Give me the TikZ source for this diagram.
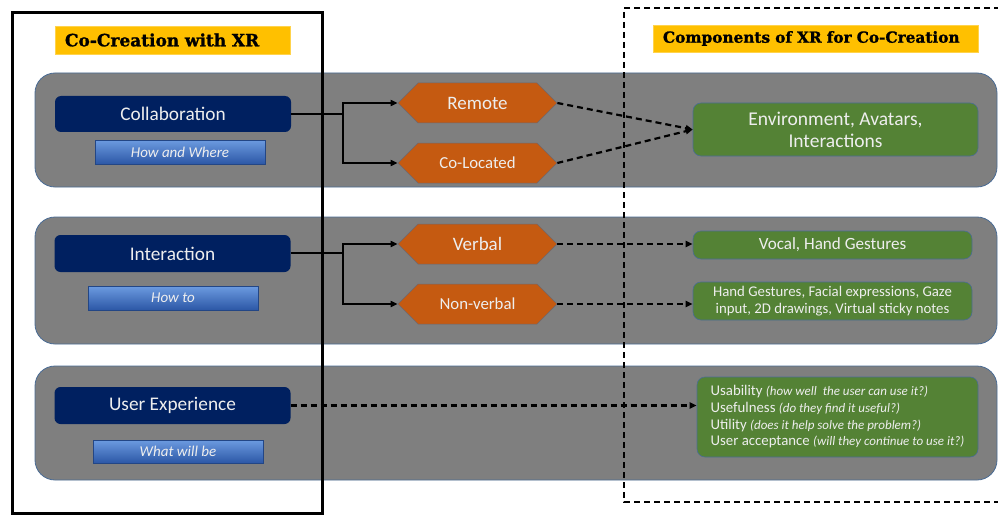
\documentclass[tikz,border=0pt]{standalone}
\usepackage{fontspec}
\setmainfont{Carlito}
\newfontfamily\slabfont{DejaVu Serif}[BoldFeatures={FakeBold=1.2}]
\usetikzlibrary{arrows.meta,shapes.symbols}

\definecolor{bandgray}{HTML}{7F7F7F}
\definecolor{bandedge}{HTML}{4A6C95}
\definecolor{navy}{HTML}{002060}
\definecolor{hexorange}{HTML}{C55A11}
\definecolor{leafgreen}{HTML}{548235}
\definecolor{titleyellow}{HTML}{FFC000}
\definecolor{bevellight}{HTML}{6C9BE0}
\definecolor{beveldark}{HTML}{2C57A6}
\definecolor{softwhite}{HTML}{EEEEEE}

\tikzset{
  band/.style={fill=bandgray, draw=bandedge, line width=0.8pt, rounded corners=20pt},
  titlebox/.style={fill=titleyellow, draw=titleyellow!70!white, line width=0.5pt,
    font=\slabfont\bfseries\fontsize{17}{20}\selectfont, text=black,
    inner xsep=10pt, inner ysep=0pt, align=left},
  navybox/.style={fill=navy, draw=none, rounded corners=6pt, text=softwhite,
    minimum width=236, minimum height=36, font=\fontsize{19.3}{22}\selectfont},
  bevel/.style={top color=bevellight, bottom color=beveldark, draw=beveldark!80!black,
    line width=0.4pt, minimum width=170, minimum height=24, text=softwhite, inner sep=0pt,
    font=\itshape\fontsize{15}{17}\selectfont},
  hexa/.style={shape=signal, signal to=east and west, signal pointer angle=90,
    fill=hexorange, draw=bandedge!70!hexorange, line width=0.5pt, minimum width=159,
    minimum height=40, inner sep=0pt, text=softwhite},
  leafbox/.style={fill=leafgreen, draw=bandedge, line width=0.6pt, rounded corners=8pt,
    text=softwhite, inner sep=0pt},
  solidline/.style={line width=2pt},
  solidarrow/.style={line width=2pt, -{Triangle[length=7pt,width=6pt]}},
  dasharrow/.style={line width=2.2pt, dash pattern=on 6pt off 4pt, -{Triangle[length=7pt,width=6pt]}},
}
\newcommand{\remark}[1]{{\itshape\fontsize{13}{15}\selectfont #1}}

\begin{document}
\begin{tikzpicture}[x=1pt,y=-1pt]
\useasboundingbox (0,0) rectangle (998,516);
\fill[white] (0,0) rectangle (998,516);

% grey bands for the three themes
\draw[band] (35,73) rectangle (997,187);
\draw[band] (35,217) rectangle (997,344);
\draw[band] (35,366) rectangle (997,480);

% framing of the two columns
\draw[line width=3pt] (12,13) rectangle (322,513);
\draw[line width=2.2pt, dash pattern=on 6pt off 4pt] (1010,8) -- (624,8) -- (624,502) -- (1010,502);

% column titles
\node[titlebox, text width=215, minimum height=28] (ltitle) at (172.5,40) {Co-Creation with XR};
\node[titlebox, text width=305, minimum height=27, font=\slabfont\bfseries\fontsize{15.3}{18}\selectfont] (rtitle) at (815.5,38.5) {Components of XR for Co-Creation};

% aspects
\node[navybox] (collab) at (173,114) {Collaboration};
\node[bevel] (collabsub) at (180,152) {How and Where};
\node[navybox, minimum height=37] (inter) at (172.5,253.5) {Interaction};
\node[bevel] (intersub) at (173,298) {How to};
\node[navybox, minimum height=37] (ux) at (172.5,405.5) {User Experience};
\node[bevel, minimum height=23] (uxsub) at (178,451.5) {What will be};

% modes
\node[hexa, font=\fontsize{19}{22}\selectfont] (remote) at (477.5,103) {Remote};
\node[hexa, font=\fontsize{16.8}{20}\selectfont] (coloc) at (477.5,163) {Co-Located};
\node[hexa, font=\fontsize{19}{22}\selectfont] (verbal) at (477.5,244) {Verbal};
\node[hexa, font=\fontsize{16.8}{20}\selectfont] (nonverbal) at (477.5,304) {Non-verbal};

% XR components
\node[leafbox, minimum width=285, minimum height=53, align=center,
  font=\fontsize{19.5}{22}\selectfont] (env) at (835.5,129.5) {Environment, Avatars,\\Interactions};
\node[leafbox, minimum width=279, minimum height=28,
  font=\fontsize{17.1}{20}\selectfont] (vocal) at (832.5,245) {Vocal, Hand Gestures};
\node[leafbox, minimum width=279, minimum height=38, align=center,
  font=\fontsize{14.8}{17}\selectfont] (gest) at (832.5,301) {Hand Gestures, Facial expressions, Gaze\\input, 2D drawings, Virtual sticky notes};
\node[leafbox, minimum width=281, minimum height=80, align=left,
  font=\fontsize{14.8}{16.7}\selectfont] (usab) at (837.5,417) {%
  Usability \remark{(how well\ \ the user can use it?)}\\
  Usefulness\ \remark{(do they find it useful?)}\\
  Utility \remark{(does it help solve the problem?)}\\
  User acceptance\ \remark{(will they continue to use it?)}};

% branching connectors
\coordinate (jcollab) at (343,114);
\coordinate (jinter) at (343,253);
\draw[solidline] (collab.east) -- (jcollab);
\draw[solidarrow] (jcollab) |- (remote.west);
\draw[solidarrow] (jcollab) |- (coloc.west);
\draw[solidline] (inter.east |- jinter) -- (jinter);
\draw[solidarrow] (jinter) |- (verbal.west);
\draw[solidarrow] (jinter) |- (nonverbal.west);

% dashed links to the components
\draw[dasharrow] (remote.east) -- (env.west);
\draw[dasharrow] (coloc.east) -- (env.west);
\draw[dasharrow] (verbal.east) -- (vocal.west |- verbal.east);
\draw[dasharrow] (nonverbal.east) -- (gest.west |- nonverbal.east);
\draw[dasharrow] (ux.east) -- (usab.west |- ux.east);
\end{tikzpicture}
\end{document}
